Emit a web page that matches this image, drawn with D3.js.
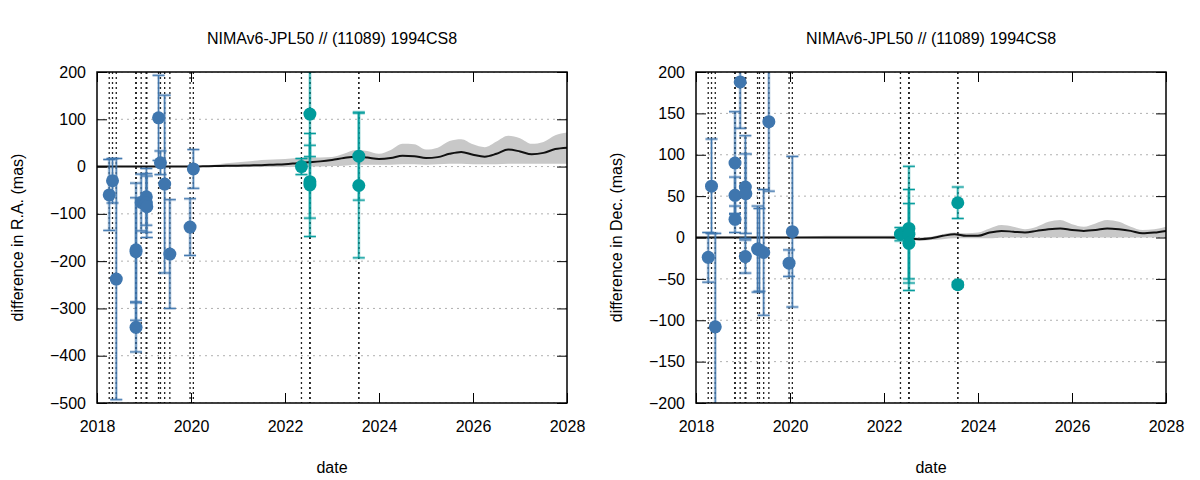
<!DOCTYPE html>
<head>
  <meta charset="utf-8">
  <style>
    body { margin: 0; background: #fff; }
    text { font-family: Arial, "Liberation Sans", sans-serif; font-size: 16px; fill: #000; }
  </style>
  <title>NIMAv6-JPL50 // (11089) 1994CS8</title>
</head>

<body>
  <script src="https://cdn.jsdelivr.net/npm/d3@7/dist/d3.min.js"></script>

  <script>
    // ---- data ----
    var title = "NIMAv6-JPL50 // (11089) 1994CS8"

    // older observations (blue)
    var blueDate   = [2018.26, 2018.33, 2018.41, 2018.83, 2018.83, 2018.83, 2018.94, 2019.05, 2019.05, 2019.06, 2019.31, 2019.35, 2019.44, 2019.55, 2019.98, 2020.05]
    var blueRA     = [-60, -30, -238, -180, -340, -176, -76, -64, -77, -85, 103, 8, -37, -185, -128, -5]
    var blueRAerr  = [75, 47, 255, 145, 52, 110, 60, 60, 62, 65, 90, 25, 188, 115, 60, 41]
    var blueDec    = [-24, 62, -108, 90, 51, 22, 188, -23, 61, 53, -14, -15, -18, 140, -31, 7]
    var blueDecErr = [30, 57, 113, 62, 22, 16, 56, 20, 62, 48, 52, 50, 76, 84, 16, 91]

    // recent observations (teal)
    var greenDate   = [2022.35, 2022.53, 2022.53, 2022.53, 2023.57, 2023.57]
    var greenRA     = [0, 111, -32, -39, 22, -40]
    var greenRAerr  = [17, 90, 77, 109, 93, 153]
    var greenDec    = [4, 11, 4, -7, 42, -57]
    var greenDecErr = [8, 75, 54, 48, 19, 3]

    // model difference and its band
    var modelYear = [2018.00, 2018.25, 2018.50, 2018.75, 2019.00, 2019.25, 2019.50, 2019.75, 2020.00, 2020.25,
                     2020.50, 2020.75, 2021.00, 2021.25, 2021.50, 2021.75, 2022.00, 2022.25, 2022.50, 2022.75,
                     2023.00, 2023.25, 2023.50, 2023.75, 2024.00, 2024.25, 2024.50, 2024.75, 2025.00, 2025.25,
                     2025.50, 2025.75, 2026.00, 2026.25, 2026.50, 2026.75, 2027.00, 2027.25, 2027.50, 2027.75, 2028.00]
    var raMid  = [0, 0, 0, 0, 0, 0, 0, 0, 0, 0.5, 1, 1.5, 2, 2.5, 3, 4, 5, 7, 9, 11,
                  14, 18, 21, 19, 16, 18, 23, 22, 18, 20, 27, 31, 25, 21, 27, 36, 32, 26, 29, 37, 40]
    var raHi   = [1, 1, 1, 1, 1, 1, 1, 1, 1, 2, 4, 7, 9, 11, 14, 15, 16, 18, 19, 19,
                  20, 27, 35, 33, 27, 35, 48, 47, 36, 40, 54, 58, 47, 41, 53, 65, 60, 48, 52, 66, 72]
    var raLo   = [-1, -1, -1, -1, -1, -1, -1, -1, -1, -1, -1, -1, -1, -1, -1, -1, -1, -1, 0, 0,
                  1, 2, 4, 4, 4, 4, 5, 5, 4, 5, 6, 6, 5, 5, 5, 6, 6, 6, 6, 6, 6]
    var decMid = [0, 0, 0, 0, 0, 0, 0, 0, 0, 0, 0, 0, 0, 0, 0, 0, 0, 0, -1, -2,
                  -1, 2, 4, 2, 2, 6, 8, 7, 6, 8, 10, 11, 9, 8, 9, 11, 10, 8, 5, 6, 8]
    var decHi  = [1, 1, 1, 1, 1, 1, 1, 1, 1, 1, 1.5, 2, 2, 2, 2, 2, 2, 2, 1, 0,
                  1, 4, 6, 5, 6, 11, 15, 13, 10, 13, 19, 21, 16, 13, 17, 21, 19, 13, 9, 10, 13]
    var decLo  = [-1, -1, -1, -1, -1, -1, -1, -1, -1, -1, -1, -1, -1, -1, -1, -1, -1, -2, -3, -4,
                  -3, -2, -1, -1, -1, -1, 0, 0, 0, 0, 0, 0, 0, 0, 0, 0, 0, 0, 0, 0, 0]

    var xTicks = [2018, 2020, 2022, 2024, 2026, 2028]
    var raTicks = [200, 100, 0, -100, -200, -300, -400, -500]
    var decTicks = [200, 150, 100, 50, 0, -50, -100, -150, -200]

    // ---- layout ----
    var width = 1200, height = 480
    var plotTop = 72, plotBottom = 403

    var blueCol = "#3f76ae", greenCol = "#009b9b"

    var svg = d3.select("body").append("svg")
                .attr("width", width)
                .attr("height", height)

    function drawPanel(id, left, right, yDomain, yTicks, ylabel, mid, hi, lo, bVal, bErr, gVal, gErr) {
      var x = d3.scaleLinear().domain([2018, 2028]).range([left, right])
      var y = d3.scaleLinear().domain(yDomain).range([plotBottom, plotTop])

      svg.append("clipPath").attr("id", "clip" + id)
        .append("rect").attr("x", left).attr("y", plotTop)
        .attr("width", right - left).attr("height", plotBottom - plotTop)

      var g = svg.append("g")
      var plot = g.append("g").attr("clip-path", "url(#clip" + id + ")")

      // horizontal dotted grid
      plot.selectAll(".grid").data(yTicks).enter().append("line")
        .attr("x1", left).attr("x2", right)
        .attr("y1", function (d) { return y(d) }).attr("y2", function (d) { return y(d) })
        .attr("stroke", "#b0b0b0").attr("stroke-dasharray", "2,4")

      // model band + line
      var idx = d3.range(modelYear.length)
      plot.append("path").datum(idx)
        .attr("fill", "#c8c8c8")
        .attr("d", d3.area().curve(d3.curveMonotoneX)
          .x(function (i) { return x(modelYear[i]) })
          .y0(function (i) { return y(lo[i]) })
          .y1(function (i) { return y(hi[i]) }))
      plot.append("path").datum(idx)
        .attr("fill", "none").attr("stroke", "#111").attr("stroke-width", 2)
        .attr("d", d3.line().curve(d3.curveMonotoneX)
          .x(function (i) { return x(modelYear[i]) })
          .y(function (i) { return y(mid[i]) }))

      // vertical dotted lines at the observation dates
      var dates = blueDate.concat(greenDate)
      plot.selectAll(".vl").data(dates).enter().append("line")
        .attr("x1", function (d) { return x(d) }).attr("x2", function (d) { return x(d) })
        .attr("y1", plotTop).attr("y2", plotBottom)
        .attr("stroke", "#222").attr("stroke-width", 1.3).attr("stroke-dasharray", "2,3")

      // error bars and points
      function series(dt, val, err, col) {
        var s = plot.append("g")
        dt.forEach(function (d, i) {
          var cx = x(d), y1 = y(val[i] + err[i]), y2 = y(val[i] - err[i])
          ;[[3, 0.35], [1, 1]].forEach(function (w) {
            s.append("line").attr("x1", cx).attr("x2", cx).attr("y1", y1).attr("y2", y2)
              .attr("stroke", col).attr("stroke-width", w[0]).attr("opacity", w[1])
            ;[y1, y2].forEach(function (yy) {
              s.append("line").attr("x1", cx - 6).attr("x2", cx + 6).attr("y1", yy).attr("y2", yy)
                .attr("stroke", col).attr("stroke-width", w[0]).attr("opacity", w[1])
            })
          })
        })
        s.selectAll("circle").data(dt).enter().append("circle")
          .attr("cx", function (d) { return x(d) })
          .attr("cy", function (d, i) { return y(val[i]) })
          .attr("r", 6.5).attr("fill", col)
      }
      series(blueDate, bVal, bErr, blueCol)
      series(greenDate, gVal, gErr, greenCol)

      // axes, ticks pointing inwards
      var ax = g.append("g")
      ax.append("g").attr("transform", "translate(0," + plotBottom + ")")
        .call(d3.axisBottom(x).tickValues(xTicks).tickFormat(d3.format("d")).tickSize(-10).tickPadding(18))
      ax.append("g").attr("transform", "translate(0," + plotTop + ")")
        .call(d3.axisTop(x).tickValues(xTicks).tickFormat("").tickSize(-10))
      ax.append("g").attr("transform", "translate(" + left + ",0)")
        .call(d3.axisLeft(y).tickValues(yTicks).tickSize(-10).tickPadding(11))
      ax.append("g").attr("transform", "translate(" + right + ",0)")
        .call(d3.axisRight(y).tickValues(yTicks).tickFormat("").tickSize(-10))
      ax.selectAll(".domain").remove()
      ax.selectAll(".tick line").attr("stroke", "#000")
      ax.selectAll(".tick text").attr("fill", "#000").style("font-size", "16px")
        .style("font-family", "Arial, 'Liberation Sans', sans-serif")

      g.append("rect").attr("x", left).attr("y", plotTop)
        .attr("width", right - left).attr("height", plotBottom - plotTop)
        .attr("fill", "none").attr("stroke", "#000").attr("stroke-width", 1.5)

      // title and labels
      g.append("text").attr("text-anchor", "middle")
        .attr("x", (left + right) / 2).attr("y", 44).text(title)
      g.append("text").attr("text-anchor", "middle")
        .attr("x", (left + right) / 2).attr("y", 473).text("date")
      g.append("text").attr("text-anchor", "middle")
        .attr("transform", "translate(" + (left - 74) + "," + ((plotTop + plotBottom) / 2) + ") rotate(-90)")
        .text(ylabel)
    }

    drawPanel("ra", 97, 567, [-500, 200], raTicks, "difference in R.A. (mas)",
              raMid, raHi, raLo, blueRA, blueRAerr, greenRA, greenRAerr)
    drawPanel("dec", 696, 1166, [-200, 200], decTicks, "difference in Dec. (mas)",
              decMid, decHi, decLo, blueDec, blueDecErr, greenDec, greenDecErr)
  </script>
</body>
